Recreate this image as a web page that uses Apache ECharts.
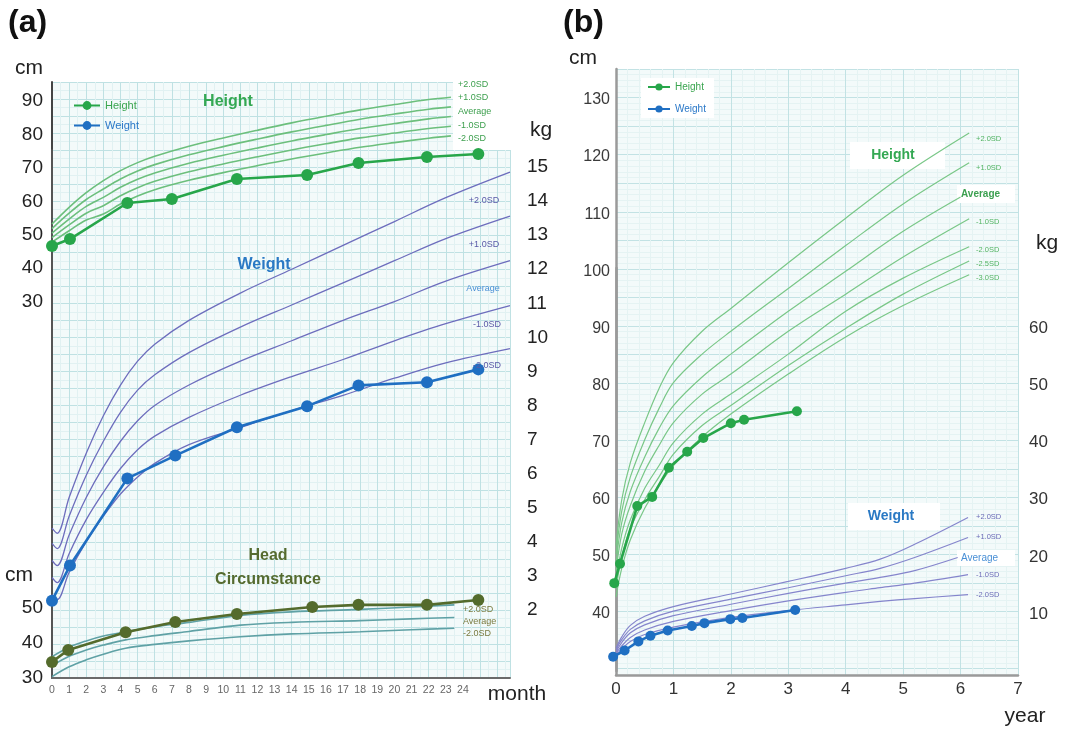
<!DOCTYPE html>
<html><head><meta charset="utf-8">
<script src="https://cdn.jsdelivr.net/npm/echarts@6/dist/echarts.min.js"></script>
<style>html,body{margin:0;padding:0;background:#fff}#chart{width:1070px;height:730px}</style>
</head><body><div id="chart"></div>
<script>
// ---------- Panel (a): 0-24 months ----------
const aMonthTicks = [0,1,2,3,4,5,6,7,8,9,10,11,12,13,14,15,16,17,18,19,20,21,22,23,24];
const aHeightMonths = [0, 1.05, 4.4, 7.0, 10.8, 14.9, 17.9, 21.9, 24.9];
const aHeight = [46.6, 48.7, 59.5, 60.7, 66.7, 67.9, 71.5, 73.3, 74.2];
const aWeightMonths = [0, 1.05, 4.4, 7.2, 10.8, 14.9, 17.9, 21.9, 24.9];
const aWeight = [2.27, 3.3, 5.86, 6.53, 7.36, 7.98, 8.59, 8.68, 9.06];
const aHeadMonths = [0, 0.95, 4.3, 7.2, 10.8, 15.2, 17.9, 21.9, 24.9];
const aHead = [34.6, 38.0, 43.1, 46.0, 48.3, 50.3, 50.9, 50.9, 52.3];

const aHRefMonths = [0, 1, 2, 3, 4, 5, 6, 8, 10, 12, 14, 16, 18, 20, 22, 23.3];
const aHP2 = [53.2, 58.2, 62.6, 66.2, 69.2, 71.6, 73.5, 76.5, 79.0, 81.3, 83.5, 85.5, 87.4, 89.0, 90.5, 91.2];
const aHP1 = [51.85, 56.45, 60.55, 63.7, 66.7, 69.1, 71.0, 73.95, 76.4, 78.65, 80.8, 82.75, 84.6, 86.15, 87.6, 88.3];
const aHAv = [50.5, 54.7, 58.5, 61.2, 64.2, 66.6, 68.5, 71.4, 73.8, 76.0, 78.1, 80.0, 81.8, 83.3, 84.7, 85.4];
const aHM1 = [49.15, 52.95, 56.45, 58.7, 61.7, 64.1, 66.0, 68.85, 71.2, 73.35, 75.4, 77.25, 79.0, 80.45, 81.8, 82.5];
const aHM2 = [47.8, 51.2, 54.4, 56.2, 59.2, 61.6, 63.5, 66.3, 68.6, 70.7, 72.7, 74.5, 76.2, 77.6, 78.9, 79.6];

const aWRefMonths = [0, 0.3, 1, 2, 3, 4, 5, 6, 8, 11, 14, 17, 20, 23, 26.75];
const aWP2 = [4.4, 4.25, 5.3, 6.6, 7.7, 8.6, 9.3, 9.8, 10.5, 11.3, 12.0, 12.7, 13.4, 14.1, 14.85];
const aWP1 = [3.95, 3.8, 4.75, 5.95, 6.95, 7.8, 8.45, 8.9, 9.55, 10.3, 10.95, 11.6, 12.25, 12.9, 13.56];
const aWAv = [3.45, 3.3, 4.2, 5.3, 6.2, 6.95, 7.55, 8.0, 8.6, 9.3, 9.9, 10.5, 11.05, 11.65, 12.25];
const aWM1 = [2.95, 2.8, 3.65, 4.65, 5.45, 6.15, 6.7, 7.1, 7.65, 8.3, 8.85, 9.35, 9.9, 10.4, 10.93];
const aWM2 = [2.45, 2.3, 3.1, 4.0, 4.75, 5.4, 5.9, 6.3, 6.85, 7.35, 7.85, 8.3, 8.8, 9.25, 9.67];

const aHCRefMonths = [0, 1, 2, 3, 4.3, 6, 8, 11, 14, 18, 21, 23.5];
const aHCP2 = [36.1, 38.8, 40.6, 42.0, 43.2, 44.6, 45.9, 47.9, 48.9, 49.6, 50.3, 50.9];
const aHCAv = [33.5, 36.2, 38.0, 39.4, 40.9, 42.1, 43.3, 45.1, 45.9, 46.4, 46.9, 47.3];
const aHCM2 = [30.4, 33.2, 35.2, 36.8, 38.5, 39.6, 40.6, 41.8, 42.6, 43.2, 43.8, 44.2];

// ---------- Panel (b): 0-7 years ----------
const bYearTicks = [0,1,2,3,4,5,6,7];
const bHeightYears = [-0.03, 0.07, 0.37, 0.63, 0.92, 1.24, 1.52, 2.0, 2.23, 3.15];
const bHeight = [45.4, 48.8, 58.9, 60.5, 65.6, 68.4, 70.8, 73.4, 74.0, 75.5];
const bWeightYears = [-0.05, 0.15, 0.39, 0.6, 0.9, 1.32, 1.54, 1.99, 2.2, 3.12];
const bWeight = [2.5, 3.6, 5.2, 6.2, 7.1, 7.9, 8.4, 9.1, 9.3, 10.7];

const bHRefYears = [0, 0.1, 0.25, 0.5, 0.75, 1, 1.5, 2, 3, 4, 5, 6.15];
const bHP2  = [52, 60, 66.5, 73.5, 79.5, 84, 89.5, 93.5, 101.5, 109.3, 116.8, 124.2];
const bHP1  = [50.5, 58, 64, 70.5, 76, 80.5, 85.5, 89.5, 97, 104.5, 111.8, 119];
const bHAv  = [49, 56, 61.5, 67.5, 72.5, 76.5, 81.5, 85.5, 93, 100, 107, 113];
const bHM1  = [47.5, 54, 59, 65, 69.5, 73.5, 78.5, 82, 89.5, 96, 102.5, 109.2];
const bHM2  = [46, 51.5, 56.5, 62, 66, 70, 75, 78.5, 85.5, 93, 98.8, 104.3];
const bHM25 = [44.5, 50, 55, 60, 64, 68, 73, 76.5, 83.5, 90, 96, 101.8];
const bHM3  = [43, 48, 53, 58.5, 62.5, 66, 71, 75, 82, 88.5, 94, 99.4];

const bWRefYears = [0, 0.1, 0.25, 0.5, 1, 2, 3, 4, 4.6, 5.2, 6.13];
const bWP2 = [4.0, 6.0, 8.0, 9.6, 11.3, 13.5, 15.7, 18.0, 19.6, 22.2, 26.9];
const bWP1 = [3.7, 5.5, 7.3, 8.8, 10.5, 12.6, 14.6, 16.7, 18.0, 19.9, 23.4];
const bWAv = [3.4, 5.0, 6.7, 8.1, 9.7, 11.7, 13.6, 15.4, 16.4, 17.6, 19.9];
const bWM1 = [3.1, 4.4, 5.9, 7.2, 8.7, 10.6, 12.3, 13.8, 14.6, 15.4, 16.9];
const bWM2 = [2.8, 3.9, 5.2, 6.4, 7.7, 9.4, 10.6, 11.6, 12.2, 12.7, 13.4];

// ---------- styling ----------
const FONT = 'Liberation Sans, Arial, Helvetica, sans-serif';
const GREEN = '#27a64a', BLUE = '#1f6fc2', OLIVE = '#546b2c';
const pairs = (xs, ys) => xs.map((x, i) => [x, ys[i]]);

function refLine(name, xs, ys, xi, yi, color, width) {
  return { type: 'line', name, xAxisIndex: xi, yAxisIndex: yi, data: pairs(xs, ys),
    showSymbol: false, symbol: 'none', smooth: 0.35, clip: false, silent: true, z: 3,
    lineStyle: { color, width } };
}
function dataLine(name, xs, ys, xi, yi, color, size) {
  return { type: 'line', name, xAxisIndex: xi, yAxisIndex: yi, data: pairs(xs, ys),
    symbol: 'circle', symbolSize: size, clip: false, z: 6,
    itemStyle: { color }, lineStyle: { color, width: 2.6 } };
}
const hiddenX = (gi, max) => ({ type: 'value', gridIndex: gi, min: 0, max, show: false });

const grids = [
  { left: 52, right: 560, top: 82, bottom: 52, show: true, backgroundColor: '#f3fafa', borderWidth: 0 }, // a paper
  { left: 52, right: 560, top: 84.5, bottom: 428.5 },   // a height (30..95 cm)
  { left: 52, right: 560, top: 150, bottom: 52 },       // a weight (0..15.5 kg)
  { left: 52, right: 560, top: 590.5, bottom: 52 },     // a head (30..55 cm)
  { left: 616, right: 52, top: 69, bottom: 55, show: true, backgroundColor: '#f3fafa', borderWidth: 0 }, // b paper
  { left: 616, right: 52, top: 71.4, bottom: 58.9 },    // b height (30..135 cm)
  { left: 616, right: 52, top: 268, bottom: 58.9 }      // b weight (0..70.58 kg)
].map(g => Object.assign({ outerBoundsMode: 'none', containLabel: false }, g));

const xAxes = [
  { type: 'value', gridIndex: 0, min: 0, max: 26.75, interval: 1,
    axisLine: { show: true, onZero: false, lineStyle: { color: '#6a6a6a', width: 2 } },
    axisTick: { show: false },
    axisLabel: { fontSize: 10.5, color: '#666', margin: 7, fontFamily: FONT, showMaxLabel: false,
      formatter: v => (aMonthTicks.indexOf(v) >= 0 ? String(v) : '') },
    splitLine: { show: true, lineStyle: { color: '#bfe1e3', width: 1 } },
    minorTick: { show: false, splitNumber: 2 },
    minorSplitLine: { show: true, lineStyle: { color: '#e1f1f2', width: 1 } } },
  hiddenX(1, 26.75), hiddenX(2, 26.75), hiddenX(3, 26.75),
  { type: 'value', gridIndex: 4, min: 0, max: 7, interval: 1,
    axisLine: { show: true, onZero: false, lineStyle: { color: '#9a9a9a', width: 2.5 } },
    axisTick: { show: false },
    axisLabel: { fontSize: 17, color: '#333', margin: 6, fontFamily: FONT,
      formatter: v => (bYearTicks.indexOf(v) >= 0 ? String(v) : '') },
    splitLine: { show: true, lineStyle: { color: '#c2e2e4', width: 1 } },
    minorTick: { show: false, splitNumber: 5 },
    minorSplitLine: { show: true, lineStyle: { color: '#e5f3f3', width: 1 } } },
  hiddenX(5, 7), hiddenX(6, 7)
];

const yAxes = [
  { type: 'value', gridIndex: 0, min: 0, max: 17.5, interval: 0.5,
    axisLine: { show: true, lineStyle: { color: '#444', width: 2 } }, axisTick: { show: false },
    axisLabel: { show: false },
    splitLine: { show: true, lineStyle: { color: '#bfe1e3', width: 1 } },
    minorTick: { show: false, splitNumber: 2 },
    minorSplitLine: { show: true, lineStyle: { color: '#e1f1f2', width: 1 } } },
  { type: 'value', gridIndex: 1, min: 30, max: 95, interval: 10,
    axisLine: { show: false }, axisTick: { show: false }, splitLine: { show: false },
    axisLabel: { fontSize: 19, color: '#222', margin: 9, fontFamily: FONT, showMaxLabel: false,
      formatter: v => (v % 10 === 0 ? String(v) : '') } },
  { type: 'value', gridIndex: 2, position: 'right', min: 0, max: 15.5, interval: 1,
    axisLine: { show: true, lineStyle: { color: '#555', width: 2 } }, axisTick: { show: false }, splitLine: { show: false },
    axisLabel: { fontSize: 19, color: '#222', margin: 17, fontFamily: FONT, showMaxLabel: false,
      formatter: v => (v >= 2 && v <= 15 && v % 1 === 0 ? String(v) : '') } },
  { type: 'value', gridIndex: 3, min: 30, max: 55, interval: 10,
    axisLine: { show: false }, axisTick: { show: false }, splitLine: { show: false },
    axisLabel: { fontSize: 19, color: '#222', margin: 9, fontFamily: FONT, showMaxLabel: false,
      formatter: v => (v % 10 === 0 && v <= 50 ? String(v) : '') } },
  { type: 'value', gridIndex: 4, inverse: true, min: 0, max: 106.1, interval: 5,
    axisLine: { show: true, lineStyle: { color: '#9a9a9a', width: 2.5 } }, axisTick: { show: false },
    axisLabel: { show: false },
    splitLine: { show: true, lineStyle: { color: '#c2e2e4', width: 1 } },
    minorTick: { show: false, splitNumber: 5 },
    minorSplitLine: { show: true, lineStyle: { color: '#e5f3f3', width: 1 } } },
  { type: 'value', gridIndex: 5, min: 30, max: 135, interval: 10,
    axisLine: { show: false }, axisTick: { show: false }, splitLine: { show: false },
    axisLabel: { fontSize: 16, color: '#3a3a3a', margin: 6, fontFamily: FONT, showMaxLabel: false, showMinLabel: false,
      formatter: v => (v >= 40 && v <= 130 && v % 10 === 0 ? String(v) : '') } },
  { type: 'value', gridIndex: 6, position: 'right', min: 0, max: 70.58, interval: 10,
    axisLine: { show: true, lineStyle: { color: '#9a9a9a', width: 2.5 } }, axisTick: { show: false }, splitLine: { show: false },
    axisLabel: { fontSize: 17, color: '#333', margin: 11, fontFamily: FONT, showMaxLabel: false, showMinLabel: false,
      formatter: v => (v >= 10 && v <= 60 && v % 10 === 0 ? String(v) : '') } }
];

const HREF_A = '#6cbf7c', WREF_A = '#6d6dbd', HCREF = '#5fa1a5';
const HREF_B = '#79c787', WREF_B = '#8585cc';
const series = [
  refLine('aH+2', aHRefMonths, aHP2, 1, 1, HREF_A, 1.6),
  refLine('aH+1', aHRefMonths, aHP1, 1, 1, HREF_A, 1.6),
  refLine('aHav', aHRefMonths, aHAv, 1, 1, HREF_A, 1.6),
  refLine('aH-1', aHRefMonths, aHM1, 1, 1, HREF_A, 1.6),
  refLine('aH-2', aHRefMonths, aHM2, 1, 1, HREF_A, 1.6),
  refLine('aW+2', aWRefMonths, aWP2, 2, 2, WREF_A, 1.3),
  refLine('aW+1', aWRefMonths, aWP1, 2, 2, WREF_A, 1.3),
  refLine('aWav', aWRefMonths, aWAv, 2, 2, WREF_A, 1.3),
  refLine('aW-1', aWRefMonths, aWM1, 2, 2, WREF_A, 1.3),
  refLine('aW-2', aWRefMonths, aWM2, 2, 2, WREF_A, 1.3),
  refLine('aHC+2', aHCRefMonths, aHCP2, 3, 3, HCREF, 1.6),
  refLine('aHCav', aHCRefMonths, aHCAv, 3, 3, HCREF, 1.6),
  refLine('aHC-2', aHCRefMonths, aHCM2, 3, 3, HCREF, 1.6),
  dataLine('Height', aHeightMonths, aHeight, 1, 1, GREEN, 12),
  dataLine('Weight', aWeightMonths, aWeight, 2, 2, BLUE, 12),
  dataLine('Head circumference', aHeadMonths, aHead, 3, 3, OLIVE, 12),

  refLine('bH+2', bHRefYears, bHP2, 5, 5, HREF_B, 1.2),
  refLine('bH+1', bHRefYears, bHP1, 5, 5, HREF_B, 1.2),
  refLine('bHav', bHRefYears.slice(0, 11).concat([6.0]), bHAv, 5, 5, HREF_B, 1.2),
  refLine('bH-1', bHRefYears, bHM1, 5, 5, HREF_B, 1.2),
  refLine('bH-2', bHRefYears, bHM2, 5, 5, HREF_B, 1.2),
  refLine('bH-2.5', bHRefYears, bHM25, 5, 5, HREF_B, 1.2),
  refLine('bH-3', bHRefYears, bHM3, 5, 5, HREF_B, 1.2),
  refLine('bW+2', bWRefYears, bWP2, 6, 6, WREF_B, 1.2),
  refLine('bW+1', bWRefYears, bWP1, 6, 6, WREF_B, 1.2),
  refLine('bWav', bWRefYears.slice(0, 10).concat([5.95]), bWAv, 6, 6, WREF_B, 1.2),
  refLine('bW-1', bWRefYears, bWM1, 6, 6, WREF_B, 1.2),
  refLine('bW-2', bWRefYears, bWM2, 6, 6, WREF_B, 1.2),
  dataLine('Height', bHeightYears, bHeight, 5, 5, GREEN, 10),
  dataLine('Weight', bWeightYears, bWeight, 6, 6, BLUE, 10)
];

function txt(text, x, y, size, color, opts) {
  opts = opts || {};
  return { type: 'text', z: 20, silent: true,
    style: { text, x, y, fill: color, fontSize: size, fontFamily: FONT,
      fontWeight: opts.bold ? 'bold' : 'normal',
      textAlign: opts.align || 'center', align: opts.align || 'center',
      textVerticalAlign: 'middle', verticalAlign: 'middle' } };
}
function box(x, y, w, h) {
  return { type: 'rect', z: 1, silent: true, shape: { x, y, width: w, height: h }, style: { fill: '#ffffff' } };
}

const HL_A = '#3c9f4d', WL_A = '#5a5aa8', AVG_BLUE = '#4a90d6', HCL = '#7b7b40';
const HL_B = '#52b463', WL_B = '#6c6cb8';
const graphics = [
  box(453, 74, 58, 76),
  box(850, 142, 95, 27),
  box(848, 503, 92, 27),
  box(957, 185, 58, 18),
  box(957, 550, 58, 16),
  txt('(a)', 8, 23, 32, '#111', { bold: true, align: 'left' }),
  txt('(b)', 563, 23, 32, '#111', { bold: true, align: 'left' }),
  txt('cm', 29, 68, 21, '#222'),
  txt('cm', 19, 575, 21, '#222'),
  txt('kg', 541, 130, 21, '#222'),
  txt('month', 517, 694, 21, '#222'),
  txt('cm', 583, 58, 21, '#222'),
  txt('kg', 1047, 243, 21, '#222'),
  txt('year', 1025, 716, 21, '#222'),
  txt('Height', 228, 102, 16, '#34a853', { bold: true }),
  txt('Weight', 264, 265, 16, '#2a79c4', { bold: true }),
  txt('Head', 268, 556, 16, '#556b2f', { bold: true }),
  txt('Circumstance', 268, 580, 16, '#556b2f', { bold: true }),
  txt('Height', 893, 155, 14, '#34a853', { bold: true }),
  txt('Weight', 891, 516, 14, '#2a79c4', { bold: true }),
  // panel (a) height SD labels
  txt('+2.0SD', 458, 85, 9, HL_A, { align: 'left' }),
  txt('+1.0SD', 458, 98, 9, HL_A, { align: 'left' }),
  txt('Average', 458, 112, 9, HL_A, { align: 'left' }),
  txt('-1.0SD', 458, 126, 9, HL_A, { align: 'left' }),
  txt('-2.0SD', 458, 139, 9, HL_A, { align: 'left' }),
  // panel (a) weight SD labels
  txt('+2.0SD', 484, 201, 9, WL_A),
  txt('+1.0SD', 484, 245, 9, WL_A),
  txt('Average', 483, 289, 9, AVG_BLUE),
  txt('-1.0SD', 487, 325, 9, WL_A),
  txt('-2.0SD', 487, 366, 9, WL_A),
  // panel (a) head SD labels
  txt('+2.0SD', 463, 610, 9, HCL, { align: 'left' }),
  txt('Average', 463, 622, 9, HCL, { align: 'left' }),
  txt('-2.0SD', 463, 634, 9, HCL, { align: 'left' }),
  // panel (b) height SD labels
  txt('+2.0SD', 976, 139, 7.5, HL_B, { align: 'left' }),
  txt('+1.0SD', 976, 168, 7.5, HL_B, { align: 'left' }),
  txt('Average', 961, 194, 10, '#3ca050', { align: 'left', bold: true }),
  txt('-1.0SD', 976, 222, 7.5, HL_B, { align: 'left' }),
  txt('-2.0SD', 976, 250, 7.5, HL_B, { align: 'left' }),
  txt('-2.5SD', 976, 264, 7.5, HL_B, { align: 'left' }),
  txt('-3.0SD', 976, 278, 7.5, HL_B, { align: 'left' }),
  // panel (b) weight SD labels
  txt('+2.0SD', 976, 517, 7.5, WL_B, { align: 'left' }),
  txt('+1.0SD', 976, 537, 7.5, WL_B, { align: 'left' }),
  txt('Average', 961, 558, 10, AVG_BLUE, { align: 'left' }),
  txt('-1.0SD', 976, 575, 7.5, WL_B, { align: 'left' }),
  txt('-2.0SD', 976, 595, 7.5, WL_B, { align: 'left' })
];

const legendItems = [
  { name: 'Height', textStyle: { color: '#3aa54f' } },
  { name: 'Weight', textStyle: { color: '#2a78c8' } }
];

const option = {
  animation: false,
  backgroundColor: '#ffffff',
  textStyle: { fontFamily: FONT },
  grid: grids,
  xAxis: xAxes,
  yAxis: yAxes,
  legend: [
    { data: legendItems, orient: 'vertical', left: 68, top: 95, itemWidth: 26, itemHeight: 11, itemGap: 9,
      selectedMode: false, textStyle: { fontSize: 11, fontFamily: FONT } },
    { data: legendItems, orient: 'vertical', left: 641, top: 78, itemWidth: 22, itemHeight: 9, itemGap: 12,
      selectedMode: false, backgroundColor: '#ffffff', padding: [4, 8, 4, 6],
      textStyle: { fontSize: 10, fontFamily: FONT } }
  ],
  series,
  graphic: { elements: graphics }
};

const chart = echarts.init(document.getElementById('chart'), null, { renderer: 'canvas' });
chart.setOption(option);
</script></body></html>
